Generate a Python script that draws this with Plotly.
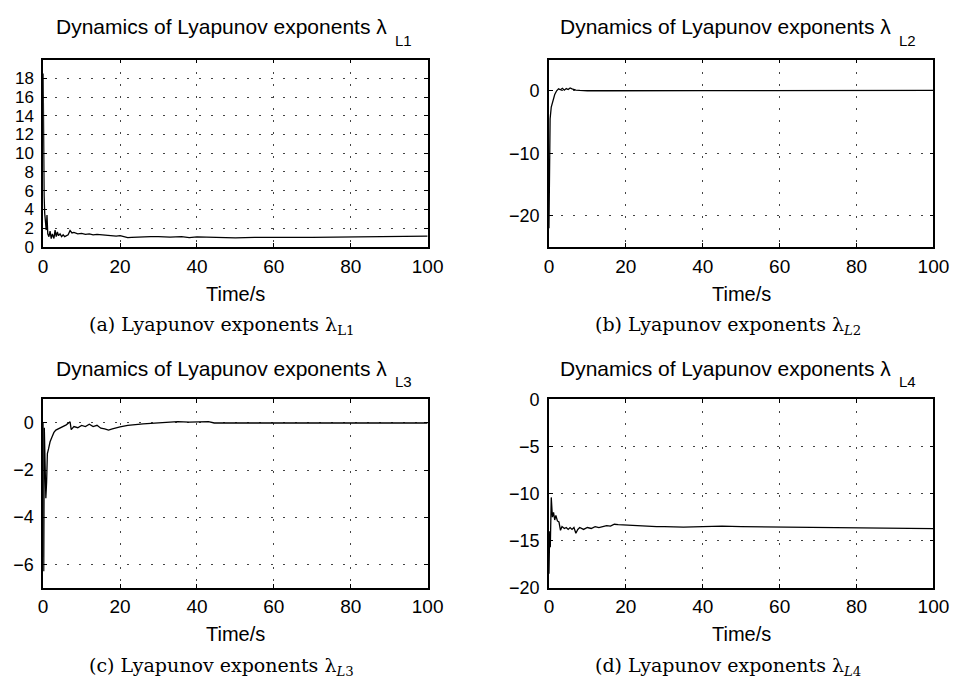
import plotly.graph_objects as go

# ---------------- data ----------------
t_L1 = [0, 0.1, 0.25, 0.4, 0.6, 0.8, 1.0, 1.2, 1.5, 1.8, 2.1, 2.4, 2.8, 3.1, 3.4, 3.7, 4.0,
        4.4, 4.8, 5.2, 5.6, 6.0, 6.5, 7.0, 7.5, 8, 9, 10, 11, 12, 13, 14, 15, 16, 17, 18,
        19, 20, 21, 22, 23, 24, 26, 28, 30, 33, 36, 38, 40, 43, 46, 50, 55, 60, 65, 70,
        75, 80, 85, 90, 95, 100]
v_L1 = [18.5, 9.0, 5.5, 3.6, 2.2, 1.8, 3.4, 1.4, 1.1, 1.7, 0.9, 1.4, 0.9, 1.8, 1.1, 1.6, 1.2,
        1.4, 1.1, 1.3, 1.1, 1.2, 1.3, 1.75, 1.5, 1.55, 1.4, 1.45, 1.35, 1.4, 1.3, 1.35, 1.3,
        1.3, 1.25, 1.2, 1.15, 1.2, 1.1, 1.0, 1.02, 1.05, 1.05, 1.1, 1.1, 1.05, 1.1, 1.0,
        1.08, 1.05, 1.0, 0.98, 1.02, 1.05, 1.02, 1.02, 1.05, 1.08, 1.1, 1.12, 1.15, 1.15]

t_L2 = [0, 0.1, 0.3, 0.6, 1.0, 1.5, 2.0, 2.5, 3.0, 3.5, 4.0, 4.5, 5.0, 5.5, 6.0, 7.0, 8.0,
        10, 15, 20, 25, 30, 40, 50, 60, 70, 80, 90, 100]
v_L2 = [-22, -12, -4.5, -2.6, -1.5, -0.6, 0.0, 0.3, 0.15, 0.4, 0.1, 0.35, 0.2, 0.45, 0.3,
        0.1, 0.05, 0.0, 0.0, 0.02, 0.05, 0.0, 0.02, 0.03, 0.04, 0.04, 0.05, 0.05, 0.05]

t_L3 = [0, 0.15, 0.3, 0.5, 0.7, 0.9, 1.1, 1.4, 1.8, 2.3, 2.8, 3.3, 4.0, 5.0, 6.0, 7.0, 7.3,
        8.0, 9.0, 10, 11, 12, 13, 14, 15, 16, 17, 18, 19, 20, 22, 24, 26, 28, 30, 33, 35,
        38, 40, 43, 44.5, 50, 60, 70, 80, 90, 100]
v_L3 = [0.0, -6.3, -0.2, -1.5, -3.2, -2.5, -1.3, -1.1, -0.8, -0.6, -0.4, -0.3, -0.25, -0.15,
        -0.08, 0.05, -0.28, -0.15, -0.2, -0.1, -0.15, -0.05, -0.15, -0.1, -0.22, -0.25,
        -0.3, -0.25, -0.2, -0.17, -0.1, -0.06, -0.04, -0.02, 0.0, 0.03, 0.06, 0.04, 0.05,
        0.06, 0.0, 0.0, 0.0, 0.0, 0.0, 0.0, 0.0]

t_L4 = [0, 0.2, 0.35, 0.6, 0.9, 1.2, 1.5, 1.8, 2.2, 2.6, 3.0, 3.4, 4.0, 4.5, 5.0, 5.5, 6.0,
        6.5, 7.0, 7.5, 8, 9, 10, 11, 12, 13, 14, 15, 16, 17, 18, 20, 22, 25, 28, 30, 35,
        40, 45, 50, 60, 70, 80, 90, 100]
v_L4 = [-18.5, -14.0, -15.7, -10.4, -12.5, -12.0, -12.8, -12.3, -12.9, -13.0, -13.9, -13.5,
        -13.7, -13.6, -13.8, -13.6, -13.8, -13.6, -14.2, -13.8, -13.6, -13.8, -13.6, -13.7,
        -13.5, -13.6, -13.5, -13.4, -13.45, -13.25, -13.3, -13.35, -13.4, -13.45, -13.5,
        -13.5, -13.55, -13.5, -13.45, -13.5, -13.55, -13.6, -13.62, -13.68, -13.72]

x_ticks = [0, 20, 40, 60, 80, 100]
y_ticks_L1 = list(range(0, 20, 2))
y_ticks_L2 = [-20, -10, 0]
y_ticks_L3 = [-6, -4, -2, 0]
y_ticks_L4 = [-20, -15, -10, -5, 0]

titles = ["Dynamics of Lyapunov exponents λ"] * 4
title_subs = ["L1", "L2", "L3", "L4"]
captions = ["(a) Lyapunov exponents λ<sub>L1</sub>",
            "(b) Lyapunov exponents λ<sub><i>L</i>2</sub>",
            "(c) Lyapunov exponents λ<sub><i>L</i>3</sub>",
            "(d) Lyapunov exponents λ<sub><i>L</i>4</sub>"]
x_title = "Time/s"

# ---------------- layout geometry (pixels) ----------------
W, H = 969, 693
boxes = [(39, 432, 51, 244), (556, 949, 51, 244), (39, 432, 401, 595), (556, 949, 401, 595)]
yranges = [[0, 20], [-25, 5], [-7, 1], [-20, 0]]
yticks = [y_ticks_L1, y_ticks_L2, y_ticks_L3, y_ticks_L4]
ytick_sizes = [17, 18, 18, 18]
series = [(t_L1, v_L1), (t_L2, v_L2), (t_L3, v_L3), (t_L4, v_L4)]

def fx(p):
    return p / W

def fy(p):
    return 1 - p / H

SANS = "Liberation Sans, Arial, Helvetica, sans-serif"
SERIF = "DejaVu Serif, serif"

fig = go.Figure()
annotations = []
for i, ((x0, x1, y0, y1), (t, v)) in enumerate(zip(boxes, series)):
    n = "" if i == 0 else str(i + 1)
    fig.add_trace(go.Scatter(x=t, y=v, mode="lines", line=dict(color="black", width=1.3),
                             xaxis="x" + n, yaxis="y" + n, showlegend=False))
    axstyle = dict(showline=True, linecolor="black", linewidth=1.5, mirror="ticks",
                   ticks="inside", ticklen=4, tickcolor="black", tickwidth=1,
                   showgrid=True, gridcolor="#444", gridwidth=1, griddash="2px,10px",
                   zeroline=False)
    fig.update_layout(**{
        "xaxis" + n: dict(domain=[fx(x0), fx(x1)], range=[0, 100], tickvals=x_ticks,
                          anchor="y" + n, ticklabelstandoff=1,
                          tickfont=dict(family=SANS, size=19, color="black"), **axstyle),
        "yaxis" + n: dict(domain=[fy(y1), fy(y0)], range=yranges[i], tickvals=yticks[i],
                          anchor="x" + n, ticklabelstandoff=4,
                          tickfont=dict(family=SANS, size=ytick_sizes[i], color="black"),
                          **axstyle),
    })
    right_of_lambda = x0 + 354 if i % 2 == 0 else x0 + 352
    ty = y0 - 34 if i < 2 else y0 - 32
    annotations.append(dict(text=titles[i], x=fx(right_of_lambda), y=fy(ty), xref="paper",
                            yref="paper", xanchor="right", yanchor="middle", showarrow=False,
                            font=dict(family=SANS, size=21, color="black")))
    annotations.append(dict(text=title_subs[i], x=fx(right_of_lambda + 4), y=fy(ty + 14),
                            xref="paper", yref="paper", xanchor="left", yanchor="middle",
                            showarrow=False, font=dict(family=SANS, size=15, color="black")))
    annotations.append(dict(text=x_title, x=fx((x0 + x1) / 2), y=fy(y1 + 48), xref="paper",
                            yref="paper", xanchor="center", yanchor="middle", showarrow=False,
                            font=dict(family=SANS, size=20, color="black")))
    cx = 221 if i % 2 == 0 else 739
    annotations.append(dict(text=captions[i], x=fx(cx), y=fy(y1 + 81), xref="paper",
                            yref="paper", xanchor="center", yanchor="middle", showarrow=False,
                            font=dict(family=SERIF, size=19, color="black")))

fig.update_layout(width=W, height=H, margin=dict(l=0, r=0, t=0, b=0),
                  paper_bgcolor="white", plot_bgcolor="white", annotations=annotations)
fig.write_html("out.html")
